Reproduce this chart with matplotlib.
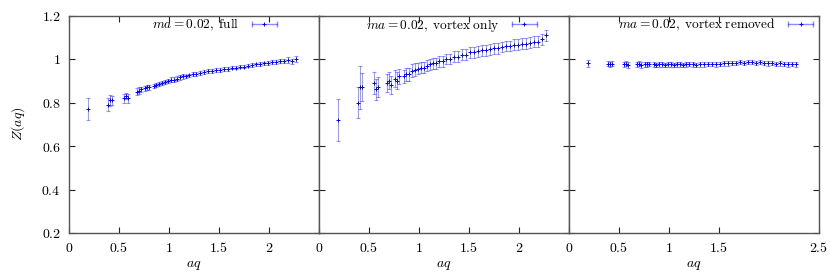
import numpy as np
import matplotlib
matplotlib.use('Agg')
from matplotlib import pyplot as plt
from matplotlib.lines import Line2D
from matplotlib.legend_handler import HandlerLine2D
from matplotlib.ticker import FuncFormatter

plt.rcParams['mathtext.fontset'] = 'cm'
plt.rcParams['font.family'] = 'serif'
plt.rcParams['font.serif'] = ['DejaVu Serif']

# lattice momenta aq
aq = [0.19, 0.39, 0.41, 0.43, 0.55, 0.57, 0.59, 0.68, 0.70, 0.72, 0.76, 0.78,
      0.80, 0.85, 0.87, 0.90, 0.93, 0.96, 0.99, 1.02, 1.05, 1.08, 1.11, 1.14,
      1.17, 1.20, 1.24, 1.27, 1.31, 1.35, 1.39, 1.43, 1.47, 1.51, 1.55, 1.59,
      1.63, 1.67, 1.71, 1.75, 1.79, 1.83, 1.87, 1.91, 1.95, 1.99, 2.03, 2.07,
      2.11, 2.15, 2.19, 2.23, 2.27]

z_full = [0.77, 0.79, 0.81, 0.81, 0.82, 0.83, 0.82, 0.85, 0.855, 0.86, 0.865, 0.87,
          0.87, 0.875, 0.88, 0.885, 0.89, 0.895, 0.90, 0.905, 0.905, 0.91, 0.915, 0.92,
          0.92, 0.925, 0.93, 0.93, 0.935, 0.94, 0.945, 0.945, 0.95, 0.95, 0.955, 0.955,
          0.96, 0.96, 0.965, 0.965, 0.97, 0.972, 0.975, 0.978, 0.98, 0.982, 0.985, 0.987,
          0.99, 0.992, 0.995, 0.99, 1.0]
err_full = [0.05, 0.03, 0.025, 0.02, 0.02, 0.015, 0.02, 0.015, 0.015, 0.012, 0.012, 0.012,
            0.012, 0.01, 0.01, 0.01, 0.01, 0.01, 0.01, 0.01, 0.01, 0.01, 0.01, 0.01,
            0.008, 0.008, 0.008, 0.008, 0.008, 0.008, 0.008, 0.008, 0.008, 0.008, 0.008, 0.008,
            0.008, 0.008, 0.008, 0.008, 0.008, 0.008, 0.008, 0.008, 0.008, 0.01, 0.01, 0.01,
            0.01, 0.01, 0.012, 0.012, 0.012]

z_vortex = [0.72, 0.80, 0.87, 0.87, 0.89, 0.86, 0.87, 0.89, 0.90, 0.88, 0.91, 0.90,
            0.92, 0.92, 0.93, 0.93, 0.945, 0.95, 0.955, 0.96, 0.96, 0.97, 0.975, 0.98,
            0.98, 0.99, 0.99, 1.0, 1.0, 1.01, 1.01, 1.02, 1.02, 1.03, 1.03, 1.035,
            1.04, 1.04, 1.045, 1.05, 1.05, 1.055, 1.06, 1.06, 1.065, 1.065, 1.07, 1.07,
            1.075, 1.08, 1.08, 1.09, 1.11]
err_vortex = [0.095, 0.07, 0.10, 0.065, 0.05, 0.05, 0.045, 0.04, 0.04, 0.04, 0.04, 0.04,
              0.035, 0.03, 0.03, 0.03, 0.03, 0.03, 0.025, 0.025, 0.025, 0.025, 0.025, 0.025,
              0.025, 0.025, 0.025, 0.025, 0.025, 0.025, 0.025, 0.025, 0.025, 0.025, 0.025, 0.025,
              0.025, 0.025, 0.025, 0.025, 0.025, 0.025, 0.025, 0.025, 0.025, 0.025, 0.025, 0.025,
              0.025, 0.025, 0.025, 0.025, 0.025]

z_removed = [0.98, 0.978, 0.975, 0.978, 0.975, 0.978, 0.972, 0.975, 0.978, 0.972, 0.975, 0.975,
             0.978, 0.975, 0.972, 0.975, 0.975, 0.972, 0.975, 0.975, 0.972, 0.975, 0.975, 0.972,
             0.975, 0.978, 0.975, 0.972, 0.975, 0.975, 0.978, 0.978, 0.975, 0.978, 0.98, 0.98,
             0.982, 0.982, 0.985, 0.982, 0.985, 0.985, 0.982, 0.985, 0.982, 0.98, 0.982, 0.978,
             0.98, 0.978, 0.975, 0.978, 0.975]
err_removed = [0.015, 0.012, 0.012, 0.012, 0.012, 0.012, 0.012, 0.012, 0.012, 0.012, 0.012, 0.012,
               0.01, 0.01, 0.01, 0.01, 0.01, 0.01, 0.01, 0.01, 0.01, 0.01, 0.01, 0.01,
               0.01, 0.01, 0.01, 0.01, 0.01, 0.01, 0.01, 0.01, 0.01, 0.01, 0.01, 0.01,
               0.01, 0.01, 0.01, 0.01, 0.01, 0.01, 0.01, 0.01, 0.01, 0.01, 0.01, 0.01,
               0.01, 0.01, 0.01, 0.01, 0.01]

labels = [r'$ma = 0.02,\;\mathrm{full}$',
          r'$ma = 0.02,\;\mathrm{vortex\;only}$',
          r'$ma = 0.02,\;\mathrm{vortex\;removed}$']
series = [(z_full, err_full), (z_vortex, err_vortex), (z_removed, err_removed)]
xtick_sets = [[0, 0.5, 1, 1.5, 2], [0, 0.5, 1, 1.5, 2], [0, 0.5, 1, 1.5, 2.5]]
legend_x = [0.875, 0.915, 1.02]

fig = plt.figure(figsize=(8.3, 2.73), dpi=100)
fig.subplots_adjust(left=69/830, right=819/830, bottom=1-233/273, top=1-15.5/273, wspace=0)
axes = fig.subplots(1, 3, sharey=True)

fmt = FuncFormatter(lambda v, p: f'${v:g}$')
for i, ax in enumerate(axes):
    z, err = series[i]
    ax.errorbar(aq, z, yerr=err, fmt='none', ecolor='blue', alpha=0.4,
                elinewidth=0.8, capsize=1.6, capthick=0.8)
    ax.plot(aq, z, linestyle='none', marker='+', color='blue', markersize=3,
            markeredgewidth=0.7)
    ax.set_xlim(0, 2.5)
    ax.set_ylim(0.2, 1.2)
    ax.set_xticks(xtick_sets[i])
    ax.set_yticks([0.2, 0.4, 0.6, 0.8, 1.0, 1.2])
    ax.xaxis.set_major_formatter(fmt)
    ax.yaxis.set_major_formatter(fmt)
    ax.tick_params(direction='in', length=4, width=0.8, top=True, right=True,
                   labelsize=10, color='#222222', pad=6)
    for s in ax.spines.values():
        s.set_color('#555555')
        s.set_linewidth(1.0)
    ax.set_xlabel(r'$aq$', fontsize=10, labelpad=2)

    h1 = Line2D([], [], color='blue', alpha=0.45, marker='|', markersize=5,
                linewidth=1.0)
    h2 = Line2D([], [], color='blue', marker='+', linestyle='none', markersize=3,
                markeredgewidth=0.7)
    ax.legend(handles=[(h1, h2)], labels=[labels[i]], loc='upper right',
              bbox_to_anchor=(legend_x[i], 1.025), frameon=False, markerfirst=False,
              fontsize=9.6, handlelength=2.5, borderaxespad=0.1, handletextpad=0.6,
              handler_map={h1: HandlerLine2D(numpoints=2), h2: HandlerLine2D(numpoints=1)})

axes[0].set_ylabel(r'$Z(aq)$', fontsize=10, labelpad=10)
for ax in axes[1:]:
    ax.tick_params(labelleft=False)

plt.savefig('out.png', dpi=100)
